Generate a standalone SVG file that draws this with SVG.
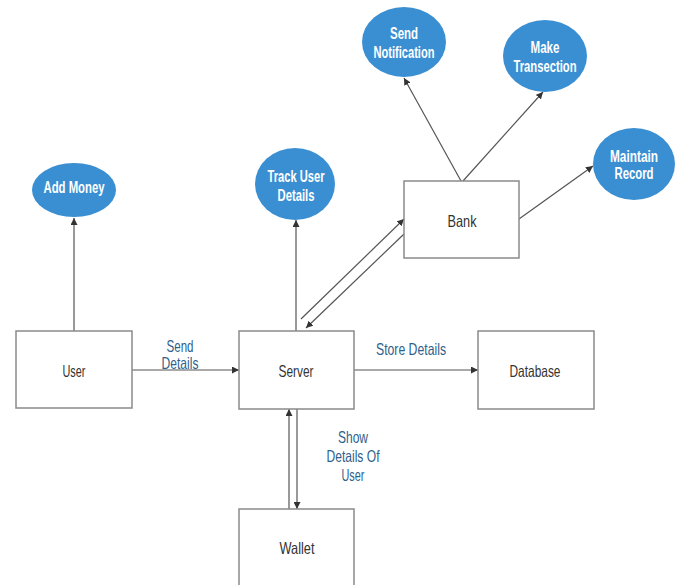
<svg xmlns="http://www.w3.org/2000/svg" width="680" height="585" viewBox="0 0 680 585">
<style>
.box{fill:#fff;stroke:#8a8a8a;stroke-width:1.5}
.ell{fill:#3a8fd2;stroke:none}
text{font-family:"Liberation Sans",Arial,sans-serif;text-anchor:middle}
.nt{font-size:16.5px;fill:#333}
.et{font-size:16px;fill:#fff;font-weight:bold}
.lt{font-size:16.5px;fill:#2f5f8c}
.ln{stroke:#555;stroke-width:1.2;fill:none;marker-end:url(#ah)}
</style>
<defs>
<marker id="ah" viewBox="0 0 10 10" refX="10" refY="5" markerWidth="7" markerHeight="7" markerUnits="userSpaceOnUse" orient="auto">
<path d="M0,0 L10,5 L0,10 z" fill="#333"/>
</marker>
</defs>
<rect width="680" height="585" fill="#fff"/>
<g id="connectors">
<line class="ln" x1="74" y1="331" x2="74" y2="218"/>
<line class="ln" x1="132" y1="370" x2="239" y2="370"/>
<line class="ln" x1="296" y1="331" x2="296" y2="220"/>
<line class="ln" x1="301" y1="319" x2="404" y2="219"/>
<line class="ln" x1="404" y1="234" x2="306" y2="328"/>
<line class="ln" x1="354" y1="370" x2="478" y2="370"/>
<line class="ln" x1="289" y1="509" x2="289" y2="409"/>
<line class="ln" x1="297" y1="409" x2="297" y2="509"/>
<line class="ln" x1="461" y1="181" x2="404" y2="78"/>
<line class="ln" x1="463" y1="181" x2="543" y2="92"/>
<line class="ln" x1="519" y1="219" x2="593" y2="166"/>
<text class="lt" x="180" y="352" textLength="27" lengthAdjust="spacingAndGlyphs">Send</text>
<text class="lt" x="180" y="369" textLength="37" lengthAdjust="spacingAndGlyphs">Details</text>
<text class="lt" x="411" y="355" textLength="70" lengthAdjust="spacingAndGlyphs">Store Details</text>
<text class="lt" x="353" y="443" textLength="30" lengthAdjust="spacingAndGlyphs">Show</text>
<text class="lt" x="353" y="462" textLength="53" lengthAdjust="spacingAndGlyphs">Details Of</text>
<text class="lt" x="353" y="481" textLength="23" lengthAdjust="spacingAndGlyphs">User</text>
</g>
<g id="user"><rect class="box" x="16" y="331" width="116" height="77"/><text class="nt" x="74" y="377" textLength="23" lengthAdjust="spacingAndGlyphs">User</text></g>
<g id="server"><rect class="box" x="239" y="331" width="115" height="78"/><text class="nt" x="296" y="377" textLength="35" lengthAdjust="spacingAndGlyphs">Server</text></g>
<g id="database"><rect class="box" x="478" y="331" width="116" height="78"/><text class="nt" x="535" y="377" textLength="51" lengthAdjust="spacingAndGlyphs">Database</text></g>
<g id="wallet"><rect class="box" x="239" y="509" width="115" height="80"/><text class="nt" x="297" y="554" textLength="35" lengthAdjust="spacingAndGlyphs">Wallet</text></g>
<g id="bank"><rect class="box" x="404" y="181" width="115" height="77"/><text class="nt" x="462" y="226.5" textLength="29" lengthAdjust="spacingAndGlyphs">Bank</text></g>
<g id="add-money"><ellipse class="ell" cx="74" cy="190" rx="42" ry="27"/><text class="et" x="74" y="193" textLength="61" lengthAdjust="spacingAndGlyphs">Add Money</text></g>
<g id="track-user-details"><ellipse class="ell" cx="295" cy="184" rx="40" ry="36"/><text class="et" x="296" y="181.5" textLength="57" lengthAdjust="spacingAndGlyphs">Track User</text><text class="et" x="296" y="200.5" textLength="37" lengthAdjust="spacingAndGlyphs">Details</text></g>
<g id="send-notification"><ellipse class="ell" cx="404" cy="42" rx="42" ry="35"/><text class="et" x="404" y="39" textLength="28" lengthAdjust="spacingAndGlyphs">Send</text><text class="et" x="404" y="58" textLength="61" lengthAdjust="spacingAndGlyphs">Notification</text></g>
<g id="make-transection"><ellipse class="ell" cx="545" cy="56" rx="42" ry="36"/><text class="et" x="545" y="53" textLength="29" lengthAdjust="spacingAndGlyphs">Make</text><text class="et" x="545" y="71.5" textLength="63" lengthAdjust="spacingAndGlyphs">Transection</text></g>
<g id="maintain-record"><ellipse class="ell" cx="634" cy="164" rx="41" ry="36"/><text class="et" x="634" y="161.5" textLength="48" lengthAdjust="spacingAndGlyphs">Maintain</text><text class="et" x="634" y="179" textLength="39" lengthAdjust="spacingAndGlyphs">Record</text></g>
</svg>
